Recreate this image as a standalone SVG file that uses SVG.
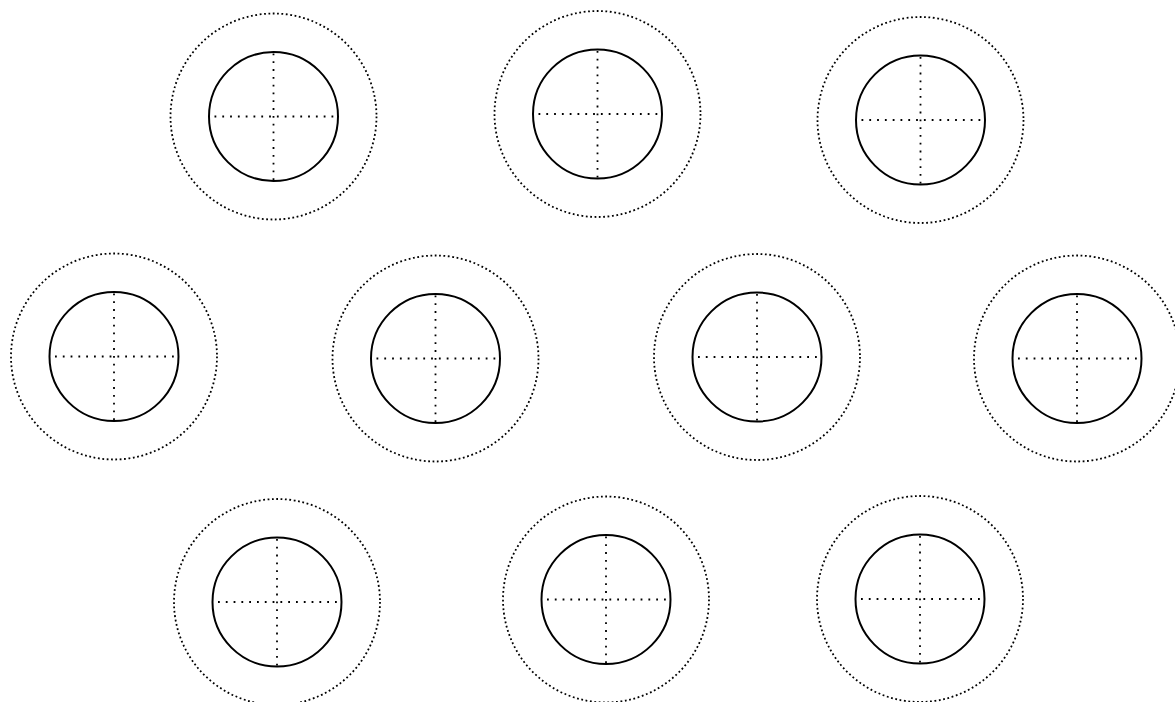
<svg xmlns="http://www.w3.org/2000/svg" width="1175" height="702" viewBox="0 0 1175 702">
<defs>
<style>
.outer{fill:none;stroke:#000;stroke-width:1.8;stroke-dasharray:1.8 2.6}
.inner{fill:none;stroke:#000;stroke-width:2}
.cross{fill:none;stroke:#000;stroke-width:1.8;stroke-dasharray:1.8 6}
</style>
<g id="unit">
<circle class="outer" cx="0" cy="0" r="103"/>
<circle class="inner" cx="0" cy="0" r="64.5"/>
<line class="cross" x1="-59" y1="0" x2="62" y2="0"/>
<line class="cross" x1="0" y1="-63" x2="0" y2="64"/>
</g>
</defs>
<rect width="1175" height="702" fill="#fff"/>
<g id="n1"><use href="#unit" transform="translate(273.5,116.5)"/></g>
<g id="n2"><use href="#unit" transform="translate(597.5,114)"/></g>
<g id="n3"><use href="#unit" transform="translate(920.5,120)"/></g>
<g id="n4"><use href="#unit" transform="translate(114,356.5)"/></g>
<g id="n5"><use href="#unit" transform="translate(435.5,358.5)"/></g>
<g id="n6"><use href="#unit" transform="translate(757,357)"/></g>
<g id="n7"><use href="#unit" transform="translate(1077,358.5)"/></g>
<g id="n8"><use href="#unit" transform="translate(277,602)"/></g>
<g id="n9"><use href="#unit" transform="translate(606,599.5)"/></g>
<g id="n10"><use href="#unit" transform="translate(920,599)"/></g>
<g id="connectors"></g>
</svg>
